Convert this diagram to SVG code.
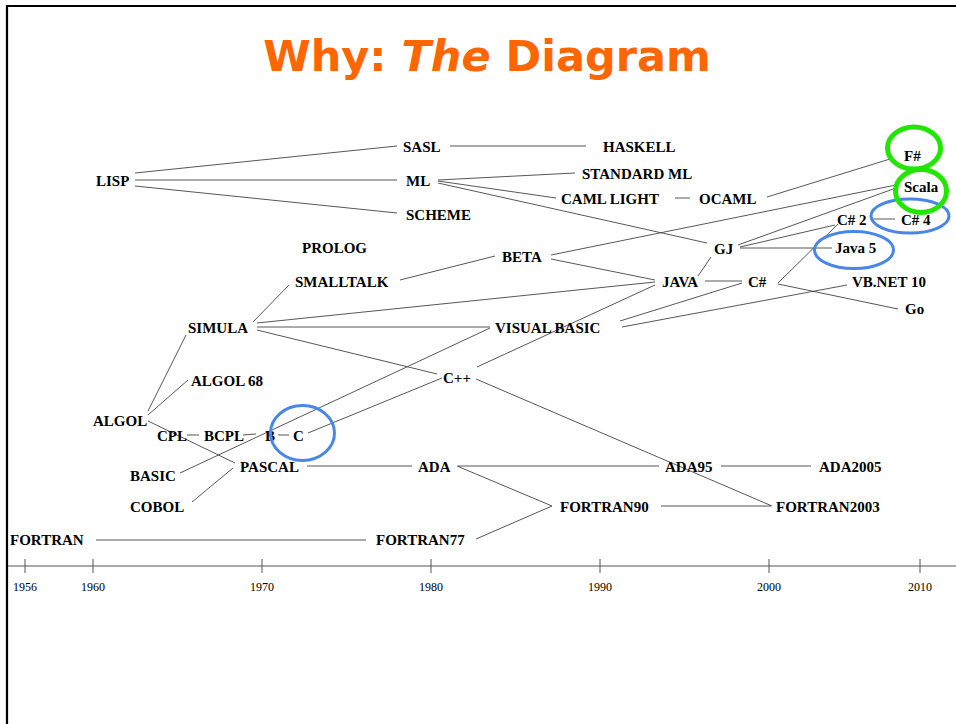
<svg xmlns="http://www.w3.org/2000/svg" width="956" height="724" viewBox="0 0 956 724">
<style>
.n{font-family:"Liberation Serif","Times New Roman",serif;font-weight:bold;font-size:15px;fill:#000}
.y{font-family:"Liberation Serif","Times New Roman",serif;font-size:12px;fill:#000;text-anchor:middle}
.c line{stroke:#444;stroke-width:0.9}
.ax line{stroke:#555;stroke-width:1}
.blue{fill:none;stroke:#4a86e8;stroke-width:3}
.green{fill:none;stroke:#22e600;stroke-width:5}
</style>
<rect width="956" height="724" fill="#fff"/>
<path d="M7 724 V6 H956" fill="none" stroke="#000" stroke-width="2.2"/>
<text x="487" y="71" text-anchor="middle" font-family="'DejaVu Sans',Verdana,sans-serif" font-weight="bold" font-size="43" fill="#ff6600">Why: <tspan font-style="italic">The</tspan> Diagram</text>

<g id="connectors" class="c">
<line x1="135" y1="173" x2="397" y2="146"/>
<line x1="135" y1="180" x2="397" y2="180"/>
<line x1="135" y1="186" x2="397" y2="213"/>
<line x1="450" y1="146" x2="586" y2="146"/>
<line x1="438" y1="180" x2="575" y2="173"/>
<line x1="438" y1="181" x2="556" y2="198"/>
<line x1="438" y1="183" x2="707" y2="243"/>
<line x1="675" y1="198" x2="690" y2="198"/>
<line x1="767" y1="197" x2="890" y2="159"/>
<line x1="551" y1="255" x2="896" y2="185"/>
<line x1="738" y1="245" x2="896" y2="188"/>
<line x1="740" y1="247" x2="835" y2="225"/>
<line x1="740" y1="248" x2="832" y2="248"/>
<line x1="778" y1="283" x2="838" y2="224"/>
<line x1="873" y1="219" x2="895" y2="219"/>
<line x1="551" y1="259" x2="655" y2="280"/>
<line x1="711" y1="257" x2="698" y2="276"/>
<line x1="705" y1="281" x2="742" y2="281"/>
<line x1="778" y1="284" x2="898" y2="309"/>
<line x1="400" y1="280" x2="495" y2="256"/>
<line x1="253" y1="322" x2="289" y2="285"/>
<line x1="257" y1="323" x2="655" y2="282"/>
<line x1="257" y1="327" x2="490" y2="327"/>
<line x1="257" y1="330" x2="437" y2="374"/>
<line x1="620" y1="321" x2="742" y2="283"/>
<line x1="622" y1="327" x2="847" y2="285"/>
<line x1="477" y1="367" x2="655" y2="285"/>
<line x1="308" y1="433" x2="442" y2="378"/>
<line x1="180" y1="473" x2="490" y2="328"/>
<line x1="148" y1="411" x2="186" y2="335"/>
<line x1="148" y1="415" x2="188" y2="380"/>
<line x1="148" y1="421" x2="235" y2="463"/>
<line x1="187" y1="435" x2="199" y2="435"/>
<line x1="243" y1="435" x2="256" y2="434"/>
<line x1="278" y1="435" x2="289" y2="435"/>
<line x1="192" y1="502" x2="233" y2="468"/>
<line x1="307" y1="466" x2="412" y2="466"/>
<line x1="458" y1="466" x2="659" y2="466"/>
<line x1="457" y1="466" x2="552" y2="506"/>
<line x1="476" y1="539" x2="552" y2="506"/>
<line x1="721" y1="466" x2="811" y2="466"/>
<line x1="661" y1="506" x2="771" y2="506"/>
<line x1="476" y1="379" x2="772" y2="506"/>
<line x1="96" y1="540" x2="366" y2="540"/>
</g>

<g id="nodes">
<g id="n-sasl"><text class="n" x="403" y="152">SASL</text></g>
<g id="n-haskell"><text class="n" x="603" y="152">HASKELL</text></g>
<g id="n-lisp"><text class="n" x="96" y="186">LISP</text></g>
<g id="n-ml"><text class="n" x="406" y="186">ML</text></g>
<g id="n-standardml"><text class="n" x="582" y="179">STANDARD ML</text></g>
<g id="n-camllight"><text class="n" x="561" y="204">CAML LIGHT</text></g>
<g id="n-ocaml"><text class="n" x="699" y="204">OCAML</text></g>
<g id="n-scheme"><text class="n" x="406" y="220">SCHEME</text></g>
<g id="n-fsharp"><text class="n" x="904" y="161">F#</text></g>
<g id="n-scala"><text class="n" x="904" y="192">Scala</text></g>
<g id="n-cs2"><text class="n" x="837" y="225">C# 2</text></g>
<g id="n-cs4"><text class="n" x="901" y="225">C# 4</text></g>
<g id="n-prolog"><text class="n" x="302" y="253">PROLOG</text></g>
<g id="n-gj"><text class="n" x="714" y="254">GJ</text></g>
<g id="n-java5"><text class="n" x="835" y="253">Java 5</text></g>
<g id="n-beta"><text class="n" x="502" y="262">BETA</text></g>
<g id="n-smalltalk"><text class="n" x="295" y="287">SMALLTALK</text></g>
<g id="n-java"><text class="n" x="662" y="287">JAVA</text></g>
<g id="n-csharp"><text class="n" x="748" y="287">C#</text></g>
<g id="n-vbnet"><text class="n" x="852" y="287">VB.NET 10</text></g>
<g id="n-go"><text class="n" x="905" y="314">Go</text></g>
<g id="n-simula"><text class="n" x="188" y="333">SIMULA</text></g>
<g id="n-vb"><text class="n" x="495" y="333">VISUAL BASIC</text></g>
<g id="n-cpp"><text class="n" x="443" y="383">C++</text></g>
<g id="n-algol68"><text class="n" x="191" y="386">ALGOL 68</text></g>
<g id="n-algol"><text class="n" x="93" y="426">ALGOL</text></g>
<g id="n-cpl"><text class="n" x="157" y="441">CPL</text></g>
<g id="n-bcpl"><text class="n" x="204" y="441">BCPL</text></g>
<g id="n-b"><text class="n" x="265" y="441">B</text></g>
<g id="n-c"><text class="n" x="293" y="441">C</text></g>
<g id="n-basic"><text class="n" x="130" y="481">BASIC</text></g>
<g id="n-pascal"><text class="n" x="240" y="472">PASCAL</text></g>
<g id="n-ada"><text class="n" x="418" y="472">ADA</text></g>
<g id="n-ada95"><text class="n" x="665" y="472">ADA95</text></g>
<g id="n-ada2005"><text class="n" x="819" y="472">ADA2005</text></g>
<g id="n-cobol"><text class="n" x="130" y="512">COBOL</text></g>
<g id="n-fortran90"><text class="n" x="560" y="512">FORTRAN90</text></g>
<g id="n-fortran2003"><text class="n" x="776" y="512">FORTRAN2003</text></g>
<g id="n-fortran"><text class="n" x="10" y="545">FORTRAN</text></g>
<g id="n-fortran77"><text class="n" x="376" y="545">FORTRAN77</text></g>
</g>

<g id="axis" class="ax">
<line x1="8" y1="566" x2="956" y2="566"/>
<line x1="25" y1="559" x2="25" y2="573"/>
<line x1="93" y1="559" x2="93" y2="573"/>
<line x1="262" y1="559" x2="262" y2="573"/>
<line x1="431" y1="559" x2="431" y2="573"/>
<line x1="600" y1="559" x2="600" y2="573"/>
<line x1="769" y1="559" x2="769" y2="573"/>
<line x1="920" y1="559" x2="920" y2="573"/>
<text class="y" x="25" y="591">1956</text>
<text class="y" x="93" y="591">1960</text>
<text class="y" x="262" y="591">1970</text>
<text class="y" x="431" y="591">1980</text>
<text class="y" x="600" y="591">1990</text>
<text class="y" x="769" y="591">2000</text>
<text class="y" x="920" y="591">2010</text>
</g>

<g id="highlights">
<ellipse class="blue" cx="302.5" cy="433" rx="32" ry="27.5"/>
<ellipse class="blue" cx="854" cy="250" rx="39.5" ry="18.5"/>
<ellipse class="blue" cx="910" cy="216" rx="39" ry="17"/>
<ellipse class="green" cx="914" cy="148" rx="26.5" ry="21"/>
<ellipse class="green" cx="921" cy="191" rx="25.5" ry="21.5"/>
</g>
</svg>
